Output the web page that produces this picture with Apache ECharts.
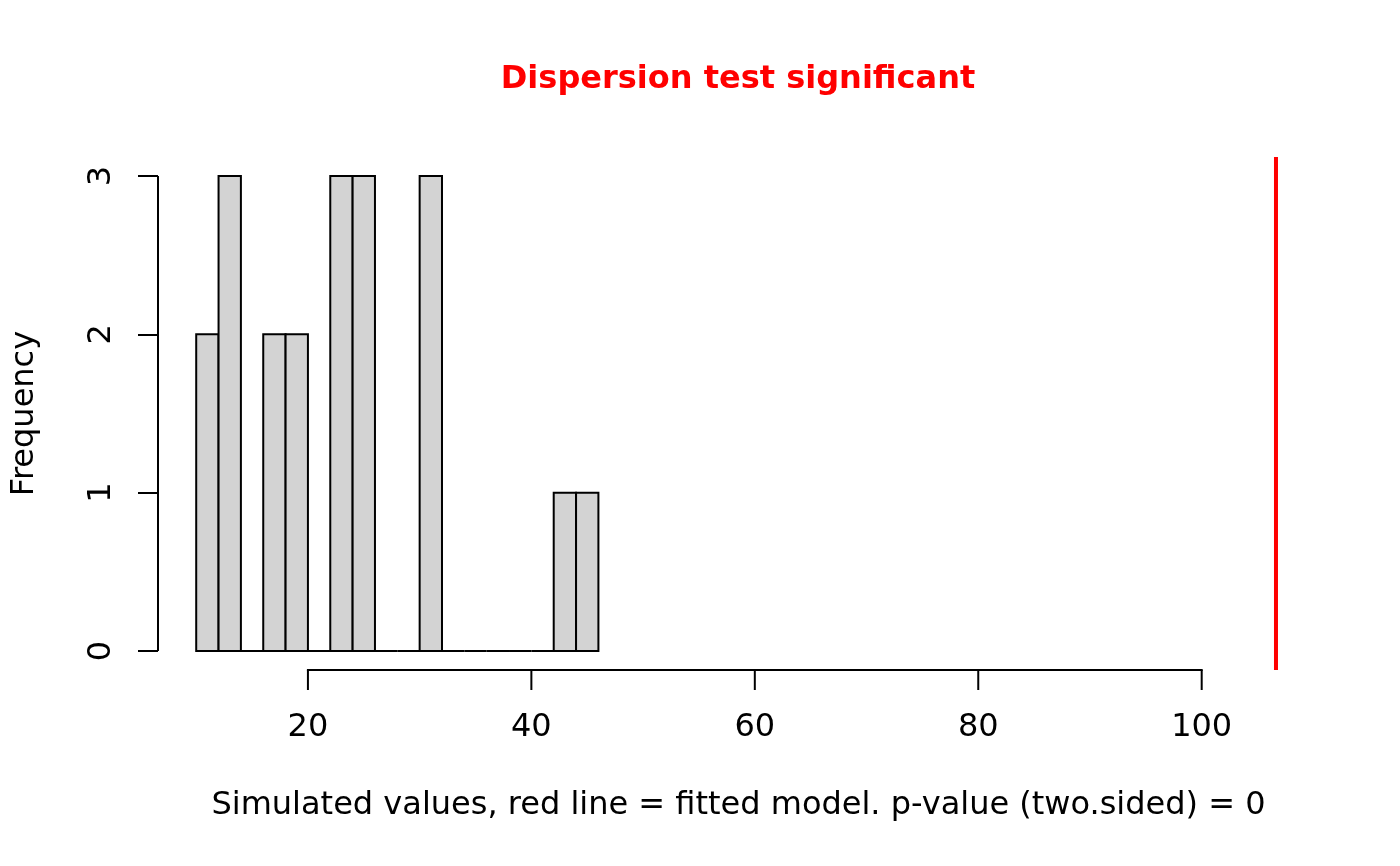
<!DOCTYPE html>
<html>
<head>
<meta charset="utf-8">
<script src="https://cdn.jsdelivr.net/npm/echarts@6/dist/echarts.min.js"></script>
<style>
html,body{margin:0;padding:0;background:#fff;}
#chart{width:1400px;height:866px;}
</style>
</head>
<body>
<div id="chart"></div>
<script>
// Histogram bins (breaks) and counts
var binStarts = [10,12,14,16,18,20,22,24,26,28,30,32,34,36,38,40,42,44];
var binEnds   = [12,14,16,18,20,22,24,26,28,30,32,34,36,38,40,42,44,46];
var counts    = [2,3,0,2,2,0,3,3,0,0,3,0,0,0,0,0,1,1];
// Observed (fitted model) value, red line
var observed = 106.65;
// Axis ticks
var xTicks = [20,40,60,80,100];
var yTicks = [0,1,2,3];
// Axis ranges (R's 4% extension)
var xMin = 6.58, xMax = 110.5;
var yMin = -0.12, yMax = 3.12;

var titleText = 'Dispersion test significant';
var xLabel = 'Simulated values, red line = fitted model. p-value (two.sided) = 0';
var yLabel = 'Frequency';

var FONT = 'DejaVu Sans';
var FS = 32;

var histData = binStarts.map(function(s, i){ return [s, binEnds[i], counts[i]]; });

var chart = echarts.init(document.getElementById('chart'), null, {renderer:'canvas'});
chart.setOption({
  animation: false,
  backgroundColor: '#ffffff',
  grid: {left:158, right:81, top:157, bottom:196, containLabel:false},
  graphic: [{
    type:'text', x:738, y:80,
    style:{text:titleText, fill:'#ff0000', font:'bold '+FS+'px "'+FONT+'"', align:'center', verticalAlign:'middle'}
  }],
  xAxis: {
    type:'value', min:xMin, max:xMax,
    splitLine:{show:false},
    axisLine:{show:false, onZero:false},
    axisTick:{show:false},
    axisLabel:{show:true, customValues:xTicks, margin:58, verticalAlign:'middle', color:'#000', fontFamily:FONT, fontSize:FS},
    name:xLabel, nameLocation:'middle', nameGap:136,
    nameTextStyle:{color:'#000', fontFamily:FONT, fontSize:FS, verticalAlign:'middle', align:'center'}
  },
  yAxis: {
    type:'value', min:yMin, max:yMax,
    splitLine:{show:false},
    axisLine:{show:false, onZero:false},
    axisTick:{show:true, length:20, inside:false, customValues:yTicks, lineStyle:{color:'#000', width:2}},
    axisLabel:{show:true, customValues:yTicks, margin:56, rotate:90, align:'center', verticalAlign:'middle', color:'#000', fontFamily:FONT, fontSize:FS},
    name:yLabel, nameLocation:'middle', nameGap:133, nameRotate:90,
    nameTextStyle:{color:'#000', fontFamily:FONT, fontSize:FS, verticalAlign:'middle', align:'center'}
  },
  series: [
    {
      type:'custom',
      data: histData,
      clip:false,
      renderItem: function(params, api){
        var p0 = api.coord([api.value(0), api.value(2)]);
        var p1 = api.coord([api.value(1), 0]);
        return {
          type:'rect',
          shape:{x:p0[0], y:p0[1], width:p1[0]-p0[0], height:p1[1]-p0[1]},
          style:{fill:'#d3d3d3', stroke:'#000', lineWidth:2}
        };
      }
    },
    {
      // x axis line (R style: from first to last tick) plus downward tick marks
      type:'custom',
      data: xTicks.map(function(v){ return [v]; }),
      clip:false, silent:true,
      renderItem: function(params, api){
        var p = api.coord([api.value(0), yMin]);
        var children = [{
          type:'line',
          shape:{x1:p[0], y1:p[1], x2:p[0], y2:p[1]+20},
          style:{stroke:'#000', lineWidth:2}
        }];
        if (params.dataIndex === 0) {
          var q = api.coord([xTicks[xTicks.length-1], yMin]);
          children.push({
            type:'line',
            shape:{x1:p[0]-1, y1:p[1], x2:q[0]+1, y2:q[1]},
            style:{stroke:'#000', lineWidth:2}
          });
        }
        return {type:'group', children:children};
      }
    },
    {
      type:'line', clip:false, symbol:'none', silent:true,
      data:[[xMin, yTicks[0]],[xMin, yTicks[yTicks.length-1]]],
      lineStyle:{color:'#000', width:2}
    },
    {
      type:'line', clip:false, symbol:'none', silent:true,
      data:[[observed, yMin],[observed, yMax]],
      lineStyle:{color:'#ff0000', width:4}
    }
  ]
});
</script>
</body>
</html>
